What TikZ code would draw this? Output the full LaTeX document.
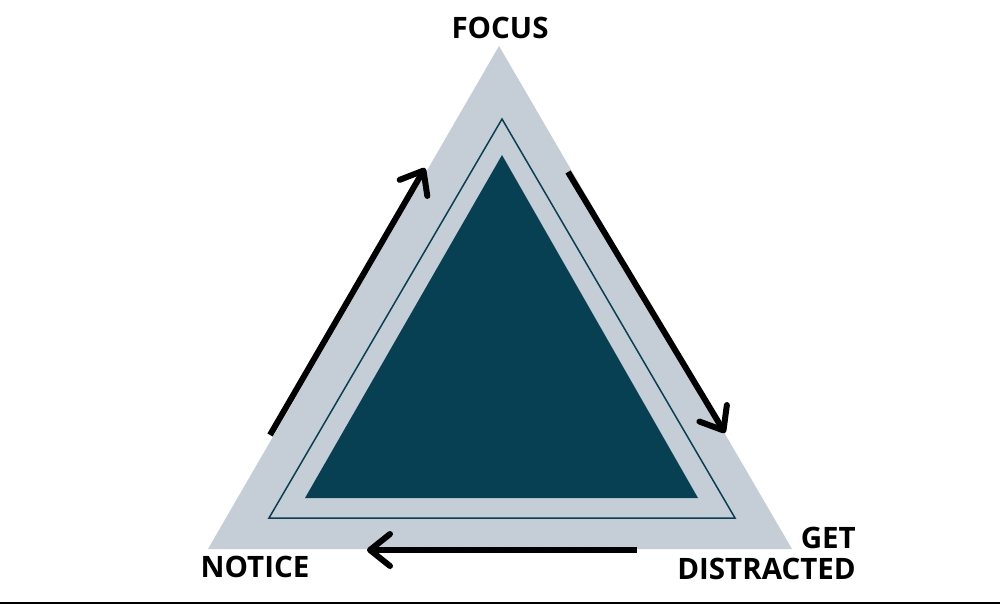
\documentclass[tikz,border=0pt]{standalone}
\usepackage{fontspec}
\setmainfont{Open Sans}
\usetikzlibrary{arrows.meta,positioning}
\definecolor{paleslate}{HTML}{C5CED7}
\definecolor{deepteal}{HTML}{073F53}
\tikzset{
  tri/.style={x=1pt, y=-1pt, every node/.style={font=\bfseries\fontsize{29.5}{31}\selectfont, inner sep=0pt}},
  band/.style={fill=paleslate},
  rim/.style={draw=deepteal, line width=1.5pt},
  core/.style={fill=deepteal},
  loopar/.style={-{Straight Barb[length=20pt,width=32pt,round]}, line width=6pt, black}
}

\begin{document}
\begin{tikzpicture}[tri]
\fill[white] (0,0) rectangle (1000,604);
\useasboundingbox (0,0) rectangle (1000,604);
% the three nested triangles
\fill[band] (499,46) -- (792,549) -- (208,549) -- cycle;
\draw[rim] (502,119) -- (735,518) -- (269,518) -- cycle;
\fill[core] (502,155) -- (698,498) -- (305,498) -- cycle;
% labels at the corners
\node (focus) at (500,28) {FOCUS};
\node (notice) at (255,567) {NOTICE};
\node[align=right, anchor=east] (distr) at (856,553) {GET\\DISTRACTED};
% the cycle
\coordinate (n0) at (270,435); \coordinate (f1) at (425,168);
\coordinate (f0) at (568,172); \coordinate (d1) at (725,433);
\coordinate (d0) at (637,550); \coordinate (n1) at (367,550);
\draw[loopar] (n0) -- (f1);
\draw[loopar] (f0) -- (d1);
\draw[loopar] (d0) -- (n1);
\draw[line width=2pt] (0,603) -- (1000,603);
\end{tikzpicture}
\end{document}
